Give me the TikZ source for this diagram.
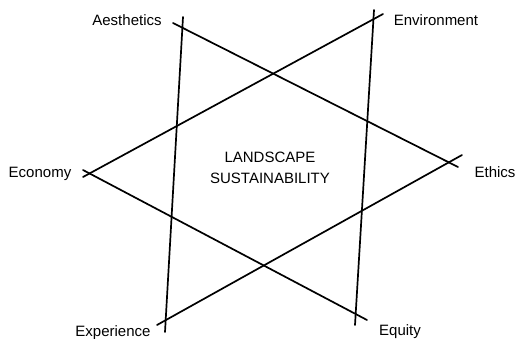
\documentclass[tikz,border=0pt]{standalone}
\usepackage{fontspec}
\setmainfont{Liberation Sans}
\begin{document}
\begin{tikzpicture}[x=1pt,y=-1pt,
  lbl/.style={anchor=base,inner sep=0pt,font=\fontsize{15}{18}\selectfont},
  side/.style={line width=1.7pt,line cap=round}]
\useasboundingbox[fill=white] (0,0) rectangle (519,338);
% endpoints
\coordinate (aesA) at (173,23);
\coordinate (ethA) at (458,167);
\coordinate (envB) at (383,14);
\coordinate (ecoB) at (83,177);
\coordinate (topL) at (183,17);
\coordinate (botL) at (165,332);
\coordinate (topR) at (374,10);
\coordinate (botR) at (355,325);
\coordinate (expC) at (157,325);
\coordinate (ethC) at (462,155);
\coordinate (ecoD) at (83,170);
\coordinate (equD) at (367,320);
\draw[side] (aesA) -- (ethA);
\draw[side] (envB) -- (ecoB);
\draw[side] (topL) -- (botL);
\draw[side] (topR) -- (botR);
\draw[side] (expC) -- (ethC);
\draw[side] (ecoD) -- (equD);
% labels
\node[lbl] (aes) at (127,25) {Aesthetics};
\node[lbl] (env) at (436,25) {Environment};
\node[lbl] (eco) at (40,177) {Economy};
\node[lbl] (eth) at (495,177) {Ethics};
\node[lbl] (exp) at (113,336) {Experience};
\node[lbl] (equ) at (400,335) {Equity};
\node[lbl] (land) at (270,162) {LANDSCAPE};
\node[lbl] (sust) at (270,183) {SUSTAINABILITY};
\end{tikzpicture}
\end{document}
